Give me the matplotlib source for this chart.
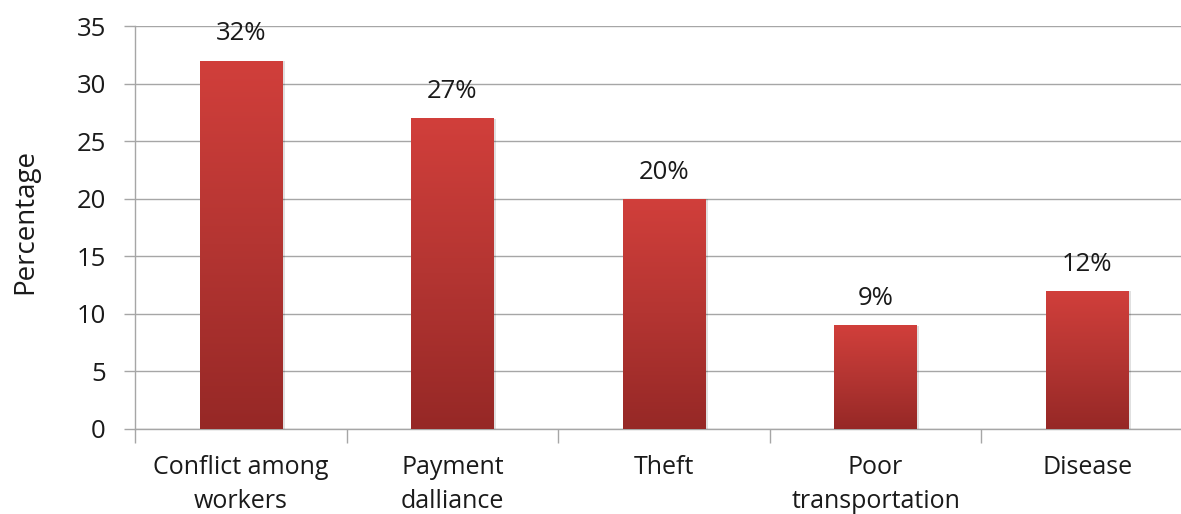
import numpy as np
import matplotlib
matplotlib.use('Agg')
import matplotlib.pyplot as plt
from matplotlib.colors import LinearSegmentedColormap
from matplotlib.patches import Rectangle

categories = ['Conflict among\nworkers', 'Payment\ndalliance', 'Theft',
              'Poor\ntransportation', 'Disease']
values = [32, 27, 20, 9, 12]
labels = ['32%', '27%', '20%', '9%', '12%']
yticks = [0, 5, 10, 15, 20, 25, 30, 35]

plt.rcParams['font.family'] = ['Open Sans', 'DejaVu Sans']

fig = plt.figure(figsize=(11.81, 5.14), dpi=100)
ax = fig.add_axes([135 / 1181, 85 / 514, 1058 / 1181, 403 / 514])

grid_col = '#a6a6a6'
txt_col = '#1a1a1a'
x = np.arange(len(categories))
width = 0.39

# gradient bars (dark at the bottom, lighter at the top)
cmap = LinearSegmentedColormap.from_list('bar', ['#962826', '#b43532', '#d13f3b'])
grad = np.linspace(0, 1, 256).reshape(-1, 1)
for xi, v, lab in zip(x, values, labels):
    # soft shadow
    ax.add_patch(Rectangle((xi - width / 2 + 0.012, 0), width, v - 0.05,
                           facecolor='#000000', alpha=0.12, edgecolor='none', zorder=2))
    bar = ax.bar(xi, v, width, color='none', edgecolor='none', zorder=3)[0]
    im = ax.imshow(grad, cmap=cmap, aspect='auto', origin='lower',
                   extent=(xi - width / 2, xi + width / 2, 0, v), zorder=3)
    im.set_clip_path(bar)
    ax.text(xi, v + 1.75, lab, ha='center', va='baseline', fontsize=18.5, color=txt_col)

ax.set_xlim(-0.5, len(categories) - 0.5)
ax.set_ylim(0, 35)

ax.set_yticks(yticks)
ax.yaxis.grid(True, color=grid_col, linewidth=1)
ax.set_axisbelow(True)

ax.set_xticks(x)
ax.set_xticklabels(categories, linespacing=1.45)
ax.set_xticks(np.arange(len(categories) + 1) - 0.5, minor=True)
ax.tick_params(axis='x', which='major', length=0, pad=19, labelsize=18, labelcolor=txt_col)
ax.tick_params(axis='x', which='minor', length=10, color=grid_col, width=1)
ax.tick_params(axis='y', length=8, color=grid_col, width=1, pad=13,
               labelsize=18.5, labelcolor=txt_col)

for s in ['top', 'right']:
    ax.spines[s].set_visible(False)
for s in ['left', 'bottom']:
    ax.spines[s].set_color(grid_col)
    ax.spines[s].set_linewidth(1)

fig.text(25 / 1181, 1 - 222 / 514, 'Percentage', rotation=90, ha='center', va='center',
         fontsize=20, color=txt_col)

fig.savefig('out.png', dpi=100)
